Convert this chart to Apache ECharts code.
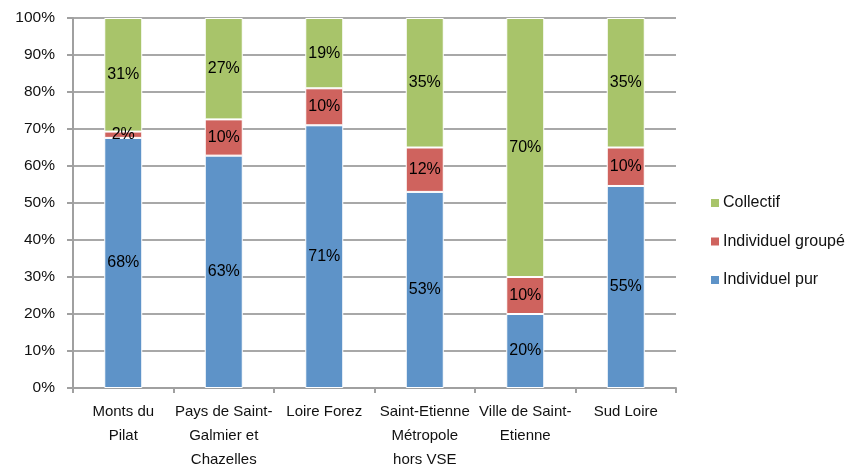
<!DOCTYPE html>
<html><head><meta charset="utf-8">
<script src="https://cdn.jsdelivr.net/npm/echarts@6/dist/echarts.min.js"></script>
<style>html,body{margin:0;padding:0;background:#fff}#c{width:856px;height:468px}</style>
</head><body><div id="c"></div>
<script>
var categories = ["Monts du\nPilat", "Pays de Saint-\nGalmier et\nChazelles", "Loire Forez", "Saint-Etienne\nMétropole\nhors VSE", "Ville de Saint-\nEtienne", "Sud Loire"];
var individuelPur = [67.6, 62.8, 71, 53, 20, 54.6];
var individuelGroupe = [1.7, 9.8, 10, 12, 10, 10.4];
var collectif = [30.7, 27.4, 19, 35, 70, 35];
var yTicks = [0, 10, 20, 30, 40, 50, 60, 70, 80, 90, 100];

var FONT = "'Liberation Sans', sans-serif";
var chart = echarts.init(document.getElementById('c'), null, {renderer: 'canvas'});
function mk(name, data, color) {
  return {
    name: name, type: 'bar', stack: 'total', data: data, barWidth: 38,
    itemStyle: {color: color, borderColor: '#fff', borderWidth: 1},
    label: {show: true, position: 'inside', color: '#000', fontFamily: FONT, fontSize: 16,
      formatter: function (p) { return Math.round(p.value) + '%'; }}
  };
}
chart.setOption({
  animation: false,
  textStyle: {fontFamily: FONT},
  grid: {left: 73, right: 180, top: 18, bottom: 80, outerBoundsMode: 'none', containLabel: false},
  legend: {
    orient: 'vertical', left: 704, top: 190, itemGap: 22.5, itemWidth: 10, itemHeight: 10,
    icon: 'rect', data: ['Collectif', 'Individuel groupé', 'Individuel pur'],
    textStyle: {fontFamily: FONT, fontSize: 16, color: '#111', padding: [0, 0, 0, -2]}
  },
  xAxis: {
    type: 'category', data: categories,
    axisLine: {lineStyle: {color: '#a0a0a0', width: 2}},
    axisTick: {show: true, alignWithLabel: false, length: 5, lineStyle: {color: '#a0a0a0', width: 2}},
    axisLabel: {interval: 0, margin: 12, fontSize: 15, lineHeight: 24, color: '#111', fontFamily: FONT}
  },
  yAxis: {
    type: 'value', min: 0, max: 100, interval: 10,
    axisLine: {show: true, lineStyle: {color: '#a0a0a0', width: 2}},
    axisTick: {show: true, length: 6, lineStyle: {color: '#a0a0a0', width: 2}},
    splitLine: {lineStyle: {color: '#a8a8a8', width: 2}},
    axisLabel: {margin: 18, fontSize: 15.5, color: '#111', fontFamily: FONT,
      formatter: function (v) { return yTicks.indexOf(v) >= 0 ? v + '%' : ''; }}
  },
  series: [
    mk('Individuel pur', individuelPur, '#5e93c8'),
    mk('Individuel groupé', individuelGroupe, '#cf635e'),
    mk('Collectif', collectif, '#a8c46a')
  ]
});
</script></body></html>
